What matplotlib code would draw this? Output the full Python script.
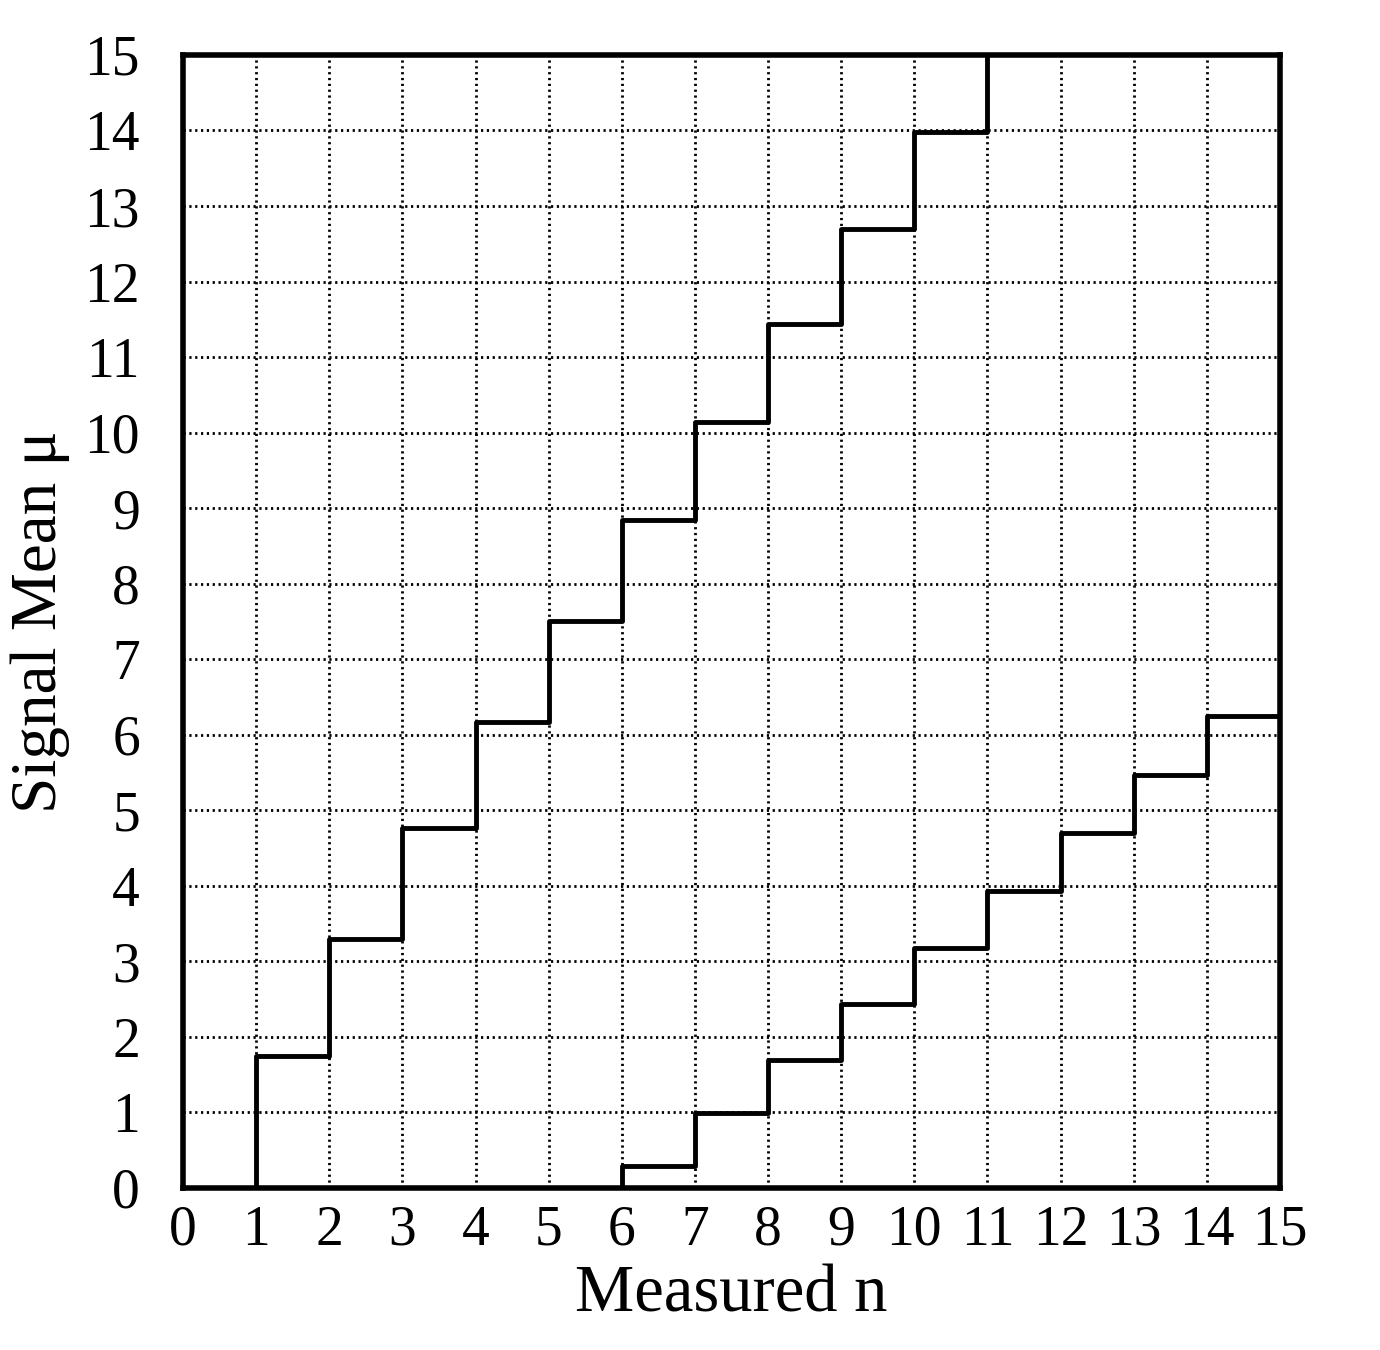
import numpy as np
import matplotlib.pyplot as plt

plt.rcParams['font.family'] = ['Liberation Serif', 'DejaVu Serif']

# upper belt edge, one value per measured n (n = 1 .. 10), goes off the top at n = 11
upper_n = [1, 2, 3, 4, 5, 6, 7, 8, 9, 10, 11]
upper_mu = [1.75, 3.30, 4.77, 6.17, 7.51, 8.84, 10.14, 11.44, 12.70, 13.98, 15.0]

# lower belt edge, one value per measured n (n = 0 .. 14), last step runs to 15
lower_n = [0, 1, 2, 3, 4, 5, 6, 7, 8, 9, 10, 11, 12, 13, 14, 15]
lower_mu = [0, 0, 0, 0, 0, 0, 0.29, 0.99, 1.69, 2.44, 3.18, 3.93, 4.70, 5.47, 6.25, 6.25]

ticks = np.arange(0, 16)

fig = plt.figure(figsize=(13.8, 13.5), dpi=100)
ax = fig.add_axes([0.1326, 0.12, 0.7949, 0.8393])

# upper edge: vertical rise at n=1 from zero, then steps
ax.step([upper_n[0]] + upper_n, [0] + upper_mu, where="post", color="black", lw=3.5)
ax.step(lower_n, lower_mu, where="post", color="black", lw=3.5)

ax.set_xlim(0, 15)
ax.set_ylim(0, 15)
ax.set_xticks(ticks)
ax.set_yticks(ticks)
ax.grid(True, color="black", linestyle=(0, (0.8, 1.3)), lw=2)
ax.tick_params(length=0, labelsize=40)
ax.tick_params(axis="x", pad=12)
ax.tick_params(axis="y", pad=31)
for s in ax.spines.values():
    s.set_linewidth(4)

ax.set_xlabel("Measured n", fontsize=48, labelpad=6)
ax.set_ylabel("Signal Mean μ", fontsize=47, labelpad=10)

fig.savefig("out.png", dpi=100)
